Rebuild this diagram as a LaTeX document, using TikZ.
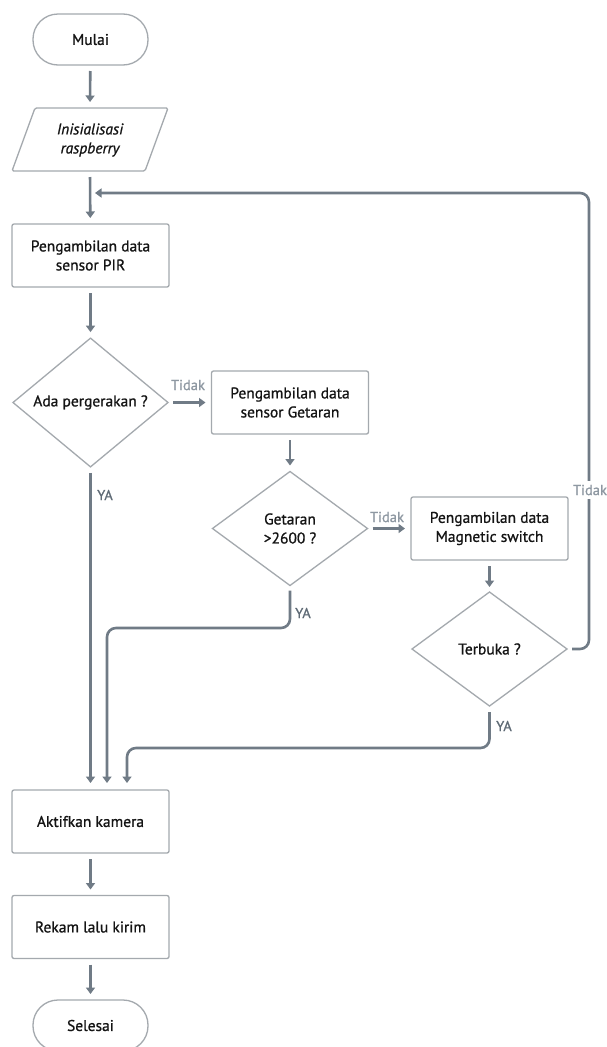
\documentclass[tikz,border=0pt]{standalone}
\usepackage{fontspec}
\setmainfont{PT Sans}
\newfontfamily\medfont{PT Sans}[FakeBold=0.9]
\newfontfamily\meditfont{PT Sans Italic}[FakeBold=0.9]
\usetikzlibrary{shapes.geometric,arrows.meta,calc}
\definecolor{lineC}{HTML}{707B86}
\definecolor{boxC}{HTML}{A4A9AE}
\definecolor{txtC}{HTML}{141414}
\definecolor{tidakC}{HTML}{8E98A2}
\definecolor{yaC}{HTML}{5E6A75}
\begin{document}
\begin{tikzpicture}[x=1pt,y=-1pt,
  base/.style={draw=boxC, line width=1.3pt, text=txtC, font=\medfont\fontsize{15.5}{19}\selectfont, align=center, inner sep=0pt, outer sep=0pt},
  proc/.style={base, rectangle, rounded corners=2pt, minimum width=157pt, minimum height=63pt},
  term/.style={base, rectangle, rounded corners=25pt, minimum width=115pt, minimum height=51pt},
  dec/.style={base, diamond, minimum width=155pt, minimum height=114pt},
  io/.style={base, draw=none, minimum width=133pt, minimum height=63pt},
  flow/.style={draw=lineC, line width=2.6pt, -{Triangle[length=6.5pt,width=9pt]}, shorten <=6pt, shorten >=6pt, rounded corners=9pt},
  lblT/.style={text=tidakC, font=\medfont\fontsize{14.5}{16}\selectfont, inner sep=1pt},
  lblY/.style={text=yaC, font=\medfont\fontsize{14.5}{16}\selectfont, inner sep=0pt, anchor=west}
]
\useasboundingbox (0,0) rectangle (607,1047);
\fill[white] (0,0) rectangle (607,1047);

% nodes
\node[term] (mulai) at (90.5,39.5) {Mulai};
\node[io] (init) at (90,140) {\meditfont Inisialisasi\\\meditfont raspberry};
\draw[draw=boxC, line width=1.3pt, rounded corners=1.5pt] (12,171) -- (35,108) -- (168,108) -- (145,171) -- cycle;
\node[proc] (pir) at (90.5,255.5) {Pengambilan data\\sensor PIR};
\node[dec] (d1) at (90.5,402.5) {Ada pergerakan ?};
\node[proc] (gbox) at (290,402.5) {Pengambilan data\\sensor Getaran};
\node[dec] (d2) at (290,528.5) {Getaran\\>2600 ?};
\node[proc] (mbox) at (489.5,528.5) {Pengambilan data\\Magnetic switch};
\node[dec] (d3) at (489.5,649) {Terbuka ?};
\node[proc] (akt) at (90.5,821.5) {Aktifkan kamera};
\node[proc] (rek) at (90.5,927) {Rekam lalu kirim};
\node[term] (sel) at (90.5,1025.5) {Selesai};

% helper coordinates
\coordinate (a2) at (107,790);
\coordinate (j2) at (107,628);
\coordinate (a3) at (127,790);
\coordinate (j3) at (127,748);
\coordinate (r1) at (589,649);
\coordinate (r2) at (589,193);
\coordinate (fb) at (90,193);

% straight connectors
\draw[flow] (mulai) -- (init.north |- 0,108);
\draw[flow] (init.south |- 0,171) -- (pir);
\draw[flow] (pir) -- (d1);
\draw[flow, shorten <=5pt] (d1) -- (gbox);
\draw[flow] (gbox) -- (d2);
\draw[flow, shorten <=5pt] (d2) -- (mbox);
\draw[flow, shorten >=5pt] (mbox) -- (d3);
\draw[flow] (akt) -- (rek);
\draw[flow] (rek) -- (sel);

% YA branches
\draw[flow, shorten >=7pt] (d1.south) -- (akt.north);
\draw[flow, shorten <=5pt, shorten >=7pt] (d2.south) |- (j2) -- (a2);
\draw[flow, shorten <=6pt, shorten >=7pt] (d3.south) |- (j3) -- (a3);

% Tidak loop back
\draw[flow, shorten <=5pt, shorten >=5pt] (d3.east) -- (r1) -- (r2) -- (fb);

% labels
\node[lblT] at (188,385) {Tidak};
\node[lblT] at (387,517) {Tidak};
\node[lblT, fill=white, inner sep=4pt] at (590,490) {Tidak};
\node[lblY] at (97,495) {YA};
\node[lblY] at (295,613) {YA};
\node[lblY] at (496,726) {YA};
\end{tikzpicture}
\end{document}
